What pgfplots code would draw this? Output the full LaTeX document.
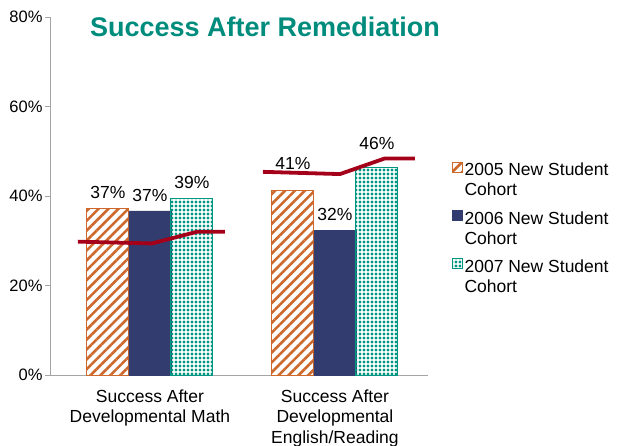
\documentclass[border=0pt]{standalone}
\usepackage{pgfplots}
\pgfplotsset{compat=1.18}
\usepackage{pgfplotstable}
\usetikzlibrary{patterns.meta}
\usepackage{fontspec}
\setmainfont{Liberation Sans}
\definecolor{orangeC}{RGB}{205,105,45}
\definecolor{navyC}{RGB}{50,60,110}
\definecolor{tealC}{RGB}{0,150,130}
\definecolor{titleC}{RGB}{0,140,125}
\definecolor{redC}{RGB}{165,0,25}
\definecolor{axisC}{RGB}{165,165,165}
\pgfplotsset{sqlegend/.style={legend image code/.code={\draw[##1] (0bp,8bp) rectangle (10bp,18bp);}}}

\pgfplotstableread{
x y sh
-0.227 37.3 6
0.773 41.3 17
}\dataA
\pgfplotstableread{
x y sh
0 36.7 6
1 32.4 6
}\dataB
\pgfplotstableread{
x y sh
0.227 39.4 6
1.227 46.3 14
}\dataC
\pgfplotstableread{
x y
-0.389 29.8
0.011 29.4
0.254 32.0
0.405 32.0
}\lineA
\pgfplotstableread{
x y
0.611 45.4
1.027 44.9
1.270 48.4
1.432 48.4
}\lineB

\begin{document}
\begin{tikzpicture}
\useasboundingbox (-50bp,-71bp) rectangle (568bp,375bp);
\begin{axis}[
  at={(0,0)}, anchor=south west,
  scale only axis, width=378bp, height=358bp,
  xmin=-0.54, xmax=1.503, ymin=0, ymax=80,
  axis lines*=left,
  axis line style={axisC, line width=0.8pt},
  every tick/.style={axisC, line width=0.8pt},
  tick align=outside,
  /pgf/number format/assume math mode=true,
  ytick={0,20,40,60,80},
  yticklabels={0\%,20\%,40\%,60\%,80\%},
  yticklabel style={font=\fontsize{16.5bp}{18bp}\selectfont, xshift=1bp},
  xtick={0,1},
  major x tick style={draw=none},
  xticklabels={{Success After\\Developmental Math},{Success After\\Developmental\\English/Reading}},
  xticklabel style={align=center, font=\fontsize{17.5bp}{20.5bp}\selectfont, yshift=-6bp},
  extra x ticks={-0.5,0.5,1.5},
  extra x tick labels={},
  extra x tick style={major tick length=5bp, tick style={axisC, line width=0.8pt}},
  major tick length=5bp,
  legend style={draw=none, fill=none, at={(1.054,0.603)}, anchor=north west,
    font=\fontsize{17.5bp}{20bp}\selectfont, cells={align=left, anchor=west},
    row sep=10bp},
  legend cell align=left,
  nodes near coords style={font=\fontsize{17.5bp}{19bp}\selectfont, text=black},
]
\addplot[ybar, bar width=42bp, bar shift=0pt, draw=orangeC, line width=1pt,
  pattern={Lines[angle=45,distance=7bp,line width=2.6bp]}, pattern color=orangeC,
  sqlegend,
  visualization depends on={\thisrow{sh} \as \myshift},
  nodes near coords={\pgfmathprintnumber[fixed,precision=0]{\pgfplotspointmeta}\%},
  every node near coord/.append style={yshift=\myshift bp}]
  table[x=x,y=y] {\dataA};
\addlegendentry{2005 New Student\\Cohort}
\addplot[ybar, bar width=42bp, bar shift=0pt, draw=navyC, fill=navyC,
  sqlegend,
  visualization depends on={\thisrow{sh} \as \myshift},
  nodes near coords={\pgfmathprintnumber[fixed,precision=0]{\pgfplotspointmeta}\%},
  every node near coord/.append style={yshift=\myshift bp}]
  table[x=x,y=y] {\dataB};
\addlegendentry{2006 New Student\\Cohort}
\addplot[ybar, bar width=42bp, bar shift=0pt, draw=tealC, line width=1pt,
  pattern={Dots[radius=1.6bp,distance=4bp]}, pattern color=tealC,
  sqlegend,
  visualization depends on={\thisrow{sh} \as \myshift},
  nodes near coords={\pgfmathprintnumber[fixed,precision=0]{\pgfplotspointmeta}\%},
  every node near coord/.append style={yshift=\myshift bp}]
  table[x=x,y=y] {\dataC};
\addlegendentry{2007 New Student\\Cohort}
\addplot[redC, line width=3.8bp, forget plot, mark=none] table[x=x,y=y] {\lineA};
\addplot[redC, line width=3.8bp, forget plot, mark=none] table[x=x,y=y] {\lineB};
\end{axis}
\node[font=\fontsize{27bp}{31bp}\selectfont\bfseries, text=titleC] at (215bp,348bp) {Success After Remediation};
\end{tikzpicture}
\end{document}
